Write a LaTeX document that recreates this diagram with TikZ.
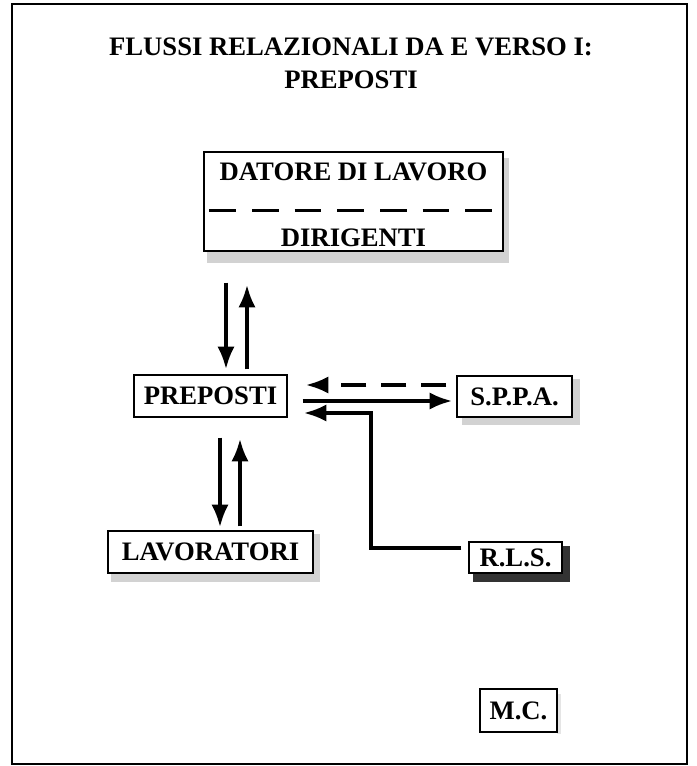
\documentclass[tikz,border=0pt]{standalone}
\usepackage{fontspec}
\setmainfont{Liberation Serif}
\usetikzlibrary{arrows.meta,calc}
\begin{document}
\begin{tikzpicture}[x=0.75pt,y=-0.75pt,
  lbl/.style={font=\bfseries\fontsize{20}{24}\selectfont, inner sep=0pt},
  boxn/.style={draw, line width=1pt, inner sep=0pt, font=\bfseries\fontsize{20}{24}\selectfont},
  flowarrow/.style={draw, line width=3pt, -{Latex[length=17pt,width=13pt]}},
  lshadow/.style={fill=gray!35},
  dshadow/.style={fill=black!80},
]
\useasboundingbox (0,0) rectangle (696,766);
\draw[line width=1.5pt] (12,4) rectangle (687,764);

% title
\node[lbl] (t1) at (351,47) {FLUSSI RELAZIONALI DA E VERSO I:};
\node[lbl] (t2) at (351,80) {PREPOSTI};

% shadows
\fill[lshadow] (207,252) rectangle (509,263);
\fill[lshadow] (504,158) rectangle (509,263);
\fill[lshadow] (572,379) rectangle (580,425);
\fill[lshadow] (462,418) rectangle (580,425);
\fill[lshadow] (111,574) rectangle (320,582);
\fill[lshadow] (314,534) rectangle (320,582);
\fill[dshadow] (562,546) rectangle (570,582);
\fill[dshadow] (473,573) rectangle (570,582);
\fill[gray!20] (557,694) rectangle (561,734);

% boxes
\node[boxn, minimum width=224.25pt, minimum height=74.25pt] (dat) at (353.5,201.5) {};
\node[lbl] (datore) at (353.5,172) {DATORE DI LAVORO};
\node[lbl] (dirig) at (353.5,238) {DIRIGENTI};
\coordinate (dl) at ($(dat.west)+(6,9)$);
\coordinate (dr) at ($(dat.east)+(-12,9)$);
\draw[line width=2.6pt, dash pattern=on 20pt off 12pt] (dl) -- (dr);

\node[boxn, minimum width=114.75pt, minimum height=31.5pt] (pre) at (210.5,396) {PREPOSTI};
\node[boxn, minimum width=86.25pt, minimum height=30.75pt] (sppa) at (514.5,396.5) {S.P.P.A.};
\node[boxn, minimum width=153.75pt, minimum height=31.5pt] (lav) at (210.5,552) {LAVORATORI};
\node[boxn, minimum width=69.75pt, minimum height=23.25pt] (rls) at (515.5,557.5) {R.L.S.};
\node[boxn, minimum width=57.75pt, minimum height=32.25pt] (mc) at (518.5,710.5) {M.C.};

% vertical arrows DATORE <-> PREPOSTI
\draw[flowarrow] ($(dat.south)+(-127.5,31)$) -- ($(pre.north)+(15.5,-5)$);
\draw[flowarrow] ($(pre.north)+(36.5,-5)$) -- ($(dat.south)+(-106.5,33)$);

% vertical arrows PREPOSTI <-> LAVORATORI
\draw[flowarrow] ($(pre.south)+(9.5,20)$) -- ($(lav.north)+(9.5,-3)$);
\draw[flowarrow] ($(lav.north)+(29.5,-4)$) -- ($(pre.south)+(29.5,21)$);

% horizontal arrows PREPOSTI <-> SPPA
\draw[flowarrow, dash pattern=on 19pt off 11pt] ($(sppa.west)+(-10,-11.5)$) -- ($(pre.east)+(18,-11)$);
\draw[flowarrow] ($(pre.east)+(15,5)$) -- ($(sppa.west)+(-4,4.5)$);

% RLS -> PREPOSTI
\draw[flowarrow] ($(rls.west)+(-7,-9.5)$) -| ($(pre.east)+(83,17)$) -- ($(pre.east)+(16,17)$);
\end{tikzpicture}
\end{document}
